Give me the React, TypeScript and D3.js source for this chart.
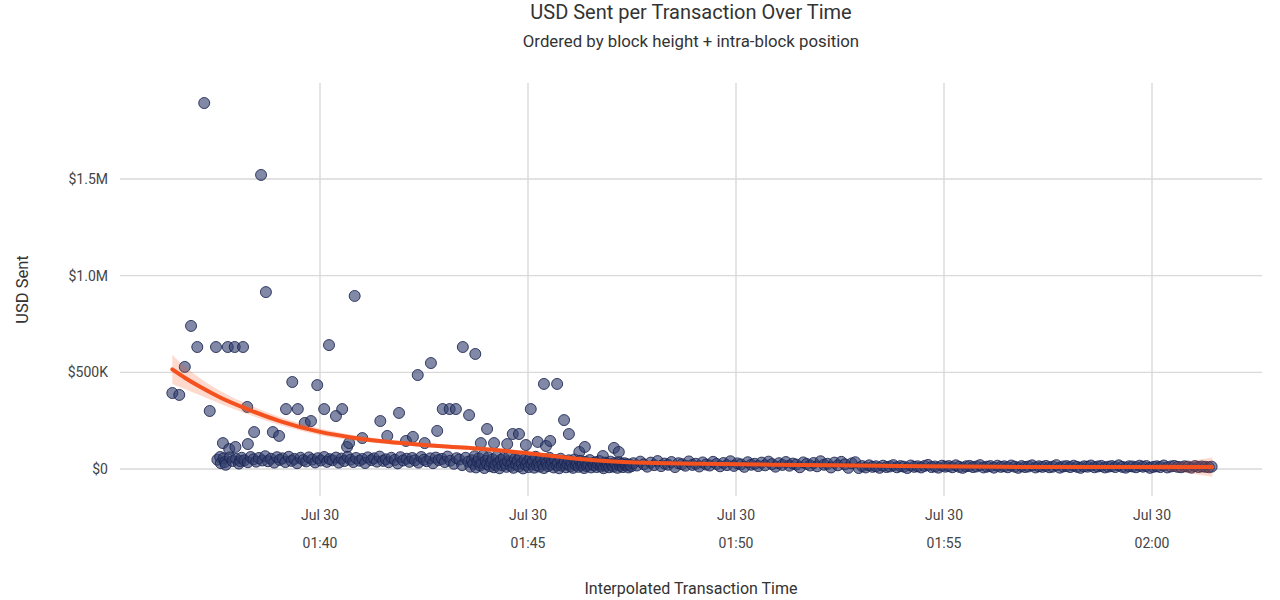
import React from "react";
import * as d3 from "d3";

// ---- data (seconds after 01:36:00 on Jul 30, USD in thousands) ----
const outliers: [number, number][] = [
  [27, 393], [37, 383], [45, 528], [54, 740], [63, 631], [73, 1893], [81, 300], [90, 631],
  [96, 62], [100, 134], [103, 36], [107, 631], [109, 103], [117, 631], [118, 114], [125, 41],
  [129, 631], [135, 321], [136, 129], [145, 191], [155, 1521], [162, 915], [172, 191], [181, 171],
  [191, 310], [200, 450], [208, 310], [218, 238], [227, 248], [236, 434], [246, 310], [253, 641],
  [263, 274], [272, 310], [279, 114], [282, 134], [290, 895], [301, 160], [327, 248], [337, 171],
  [354, 290], [364, 145], [374, 166], [381, 486], [391, 134], [400, 548], [409, 197], [417, 310],
  [427, 310], [436, 310], [446, 631], [455, 279], [464, 595], [472, 134], [481, 207], [491, 134],
  [510, 129], [518, 181], [527, 181], [537, 124], [544, 310], [554, 140], [563, 440], [566, 119],
  [572, 145], [582, 440], [592, 253], [599, 181], [614, 88], [622, 114], [648, 67], [664, 109],
  [671, 88],
];

const earlyBand: [number, number][] = [
  [92, 48], [97, 30], [101, 55], [104, 22], [110, 60], [114, 41], [119, 52], [123, 28], [127, 58],
  [131, 45], [136, 35], [140, 62], [144, 50], [148, 38], [152, 57], [157, 44], [161, 66], [165, 40],
  [169, 53], [174, 33], [178, 61], [182, 47], [186, 55], [190, 36], [195, 63], [199, 42], [203, 52],
  [207, 30], [212, 58], [216, 46], [220, 39], [224, 60], [229, 49], [233, 34], [237, 56], [241, 44],
  [246, 62], [250, 37], [254, 51], [258, 45], [263, 59], [267, 33], [271, 54], [275, 41], [280, 63],
  [284, 48], [288, 36], [292, 57], [297, 43], [301, 52], [305, 31], [309, 60], [314, 46], [318, 55],
  [322, 38], [326, 64], [331, 42], [335, 50], [339, 35], [343, 58], [348, 47], [352, 29], [356, 61],
  [360, 44], [365, 53], [369, 37], [373, 57], [377, 45], [382, 33], [386, 62], [390, 48], [394, 40],
  [399, 55], [403, 30], [407, 59], [411, 46], [416, 52], [420, 36], [424, 64], [428, 43], [433, 27],
  [437, 56], [441, 49], [445, 20], [450, 58], [454, 38],
];

const denseBand: [number, number][] = [
  [457, 12], [459, 45], [461, 28], [463, 66], [465, 8], [467, 38], [469, 55], [471, 18], [473, 30],
  [475, 70], [477, 5], [479, 42], [481, 25], [483, 60], [485, 14], [487, 35], [489, 50], [491, 9],
  [493, 22], [495, 64], [497, 31], [499, 4], [501, 47], [503, 19], [505, 57], [507, 27], [509, 11],
  [511, 40], [513, 68], [515, 16], [517, 33], [519, 6], [521, 52], [523, 24], [525, 43], [527, 13],
  [529, 61], [531, 29], [533, 3], [535, 48], [537, 21], [539, 36], [541, 10], [543, 55], [545, 26],
  [547, 41], [549, 7], [551, 63], [553, 18], [555, 34], [557, 12], [559, 50], [561, 24], [563, 5],
  [565, 44], [567, 30], [569, 15], [571, 58], [573, 22], [575, 38], [577, 8], [579, 47], [581, 20],
  [583, 32], [585, 4], [587, 53], [589, 17], [591, 28], [593, 40], [595, 9], [597, 25], [599, 45],
  [601, 14], [603, 33], [605, 6], [607, 49], [609, 21], [611, 30], [613, 11], [615, 42], [617, 18],
  [619, 27], [621, 5], [623, 37], [625, 15], [627, 24], [629, 46], [631, 8], [633, 29], [635, 19],
  [637, 35], [639, 10], [641, 26], [643, 41], [645, 13], [647, 22], [649, 4], [651, 33], [653, 17],
  [655, 28], [657, 9], [659, 38], [661, 20], [663, 12], [665, 31], [667, 24], [669, 6], [671, 35],
  [673, 16], [675, 27], [677, 10], [679, 30], [681, 19], [683, 25], [685, 8], [687, 22], [689, 14],
];

const midTail: [number, number][] = [
  [692, 30], [697, 18], [702, 38], [707, 24], [712, 12], [717, 33], [722, 20], [727, 41], [732, 15],
  [737, 28], [742, 22], [747, 36], [752, 10], [757, 30], [762, 25], [767, 17], [772, 39], [777, 21],
  [782, 27], [787, 13], [792, 34], [797, 23], [802, 18], [807, 37], [812, 26], [817, 14], [822, 31],
  [827, 20], [832, 40], [837, 16], [842, 29], [847, 24], [852, 11], [857, 35], [862, 22], [867, 27],
  [872, 15], [877, 33], [882, 19], [887, 38], [892, 25], [897, 12], [902, 30], [907, 21], [912, 36],
  [917, 17], [922, 28], [927, 23], [932, 9], [937, 34], [942, 26], [947, 18], [952, 31], [957, 14],
  [962, 40], [967, 22], [972, 27], [977, 8], [982, 33], [987, 19], [992, 37], [997, 24], [1002, 6],
  [1007, 29], [1012, 35], [1017, 5],
];

const lateTail: [number, number][] = [
  [1022, 15], [1027, 8], [1032, 19], [1037, 11], [1042, 14], [1047, 6], [1052, 17], [1057, 10],
  [1062, 13], [1067, 20], [1072, 9], [1077, 15], [1082, 12], [1087, 5], [1092, 18], [1097, 11],
  [1102, 14], [1107, 8], [1112, 16], [1117, 21], [1122, 10], [1127, 13], [1132, 7], [1137, 17],
  [1142, 12], [1147, 15], [1152, 9], [1157, 19], [1162, 11], [1167, 6], [1172, 14], [1177, 16],
  [1182, 10], [1187, 13], [1192, 20], [1197, 8], [1202, 12], [1207, 15], [1212, 7], [1217, 17],
  [1222, 11], [1227, 14], [1232, 9], [1237, 18], [1242, 12], [1247, 6], [1252, 15], [1257, 10],
  [1262, 13], [1267, 19], [1272, 8], [1277, 14], [1282, 11], [1287, 16], [1292, 9], [1297, 12],
  [1302, 20], [1307, 7], [1312, 13], [1317, 15], [1322, 10], [1327, 17], [1332, 11], [1337, 6],
  [1342, 14], [1347, 12], [1352, 18], [1357, 9], [1362, 13], [1367, 16], [1372, 8], [1377, 12],
  [1382, 15], [1387, 10], [1392, 19], [1397, 11], [1402, 7], [1407, 14], [1412, 13], [1417, 9],
  [1422, 17], [1427, 12], [1432, 15], [1437, 6], [1442, 11], [1447, 14], [1452, 10], [1457, 18],
  [1462, 8], [1467, 13], [1472, 16], [1477, 11], [1482, 9], [1487, 14], [1492, 12], [1497, 7],
  [1502, 15], [1507, 10], [1512, 13], [1517, 11], [1522, 9], [1526, 12],
];

// smooth (loess) fit: [seconds, fit K, half-width of 95% band K]
const smoothFit: [number, number, number][] = [
  [27, 515, 75], [45, 472, 58], [67, 425, 44], [96, 370, 33], [135, 310, 26], [182, 248, 21],
  [240, 192, 17], [288, 162, 14], [337, 141, 12], [384, 126, 11], [427, 115, 10], [471, 105, 10],
  [540, 82, 9], [615, 52, 8], [697, 33, 8], [788, 27, 7], [932, 21, 7], [1076, 15, 7],
  [1221, 11, 7], [1365, 10, 8], [1437, 10, 12], [1480, 10, 25], [1527, 10, 50],
];

const yTicks = [0, 500000, 1000000, 1500000];
const title = "USD Sent per Transaction Over Time";
const subtitle = "Ordered by block height + intra-block position";
const yTitle = "USD Sent";
const xTitle = "Interpolated Transaction Time";

// ---- layout ----
const W = 1280;
const H = 600;
const P = { left: 120, right: 1262, top: 83, bottom: 496 };
const BASE = Date.UTC(2024, 6, 30, 1, 36, 0);
const toDate = (s: number) => new Date(BASE + s * 1000);

const x = d3
  .scaleUtc()
  .domain([new Date(Date.UTC(2024, 6, 30, 1, 35, 11, 540)), new Date(Date.UTC(2024, 6, 30, 2, 2, 38, 650))])
  .range([P.left, P.right]);
const y = d3.scaleLinear().domain([-139700, 1996600]).range([P.bottom, P.top]);

const fmtY = (v: number) =>
  v === 0 ? "$0" : v < 1e6 ? `$${v / 1000}K` : `$${(v / 1e6).toFixed(1)}M`;
const fmtDay = d3.utcFormat("%b %d");
const fmtTime = d3.utcFormat("%H:%M");

const FONT = "Roboto, 'Noto Sans', sans-serif";

export default function App() {
  const points = [...outliers, ...earlyBand, ...denseBand, ...midTail, ...lateTail].sort(
    (a, b) => a[0] - b[0]
  );
  const xTicks = x.ticks(d3.utcMinute.every(5)!);

  const area = d3
    .area<[number, number, number]>()
    .x((d) => x(toDate(d[0])))
    .y0((d) => y((d[1] - d[2]) * 1000))
    .y1((d) => y((d[1] + d[2]) * 1000))
    .curve(d3.curveMonotoneX);
  const line = d3
    .line<[number, number, number]>()
    .x((d) => x(toDate(d[0])))
    .y((d) => y(d[1] * 1000))
    .curve(d3.curveMonotoneX);

  const cx = (P.left + P.right) / 2;

  return (
    <svg
      width={W}
      height={H}
      style={{ position: "absolute", left: 0, top: 0, background: "#fff" }}
      fontFamily={FONT}
    >
      <rect width={W} height={H} fill="#fff" />
      {/* grid */}
      {yTicks.map((t) => (
        <line key={"gy" + t} x1={P.left} x2={P.right} y1={y(t)} y2={y(t)} stroke="#d9d9d9" strokeWidth={1.4} />
      ))}
      {xTicks.map((t) => (
        <line
          key={"gx" + t.getTime()}
          x1={x(t)}
          x2={x(t)}
          y1={P.top}
          y2={P.bottom}
          stroke="#d9d9d9"
          strokeWidth={1.4}
        />
      ))}
      {/* points */}
      <g>
        {points.map((d, i) => (
          <circle
            key={i}
            cx={x(toDate(d[0]))}
            cy={y(d[1] * 1000)}
            r={5.5}
            fill="#34406f"
            fillOpacity={0.62}
            stroke="#1a2350"
            strokeOpacity={0.85}
            strokeWidth={1}
          />
        ))}
      </g>
      {/* smooth */}
      <path d={area(smoothFit) || ""} fill="#f4511e" fillOpacity={0.22} />
      <path d={line(smoothFit) || ""} fill="none" stroke="#f4511e" strokeWidth={4} strokeLinecap="round" />
      {/* axes labels */}
      {yTicks.map((t) => (
        <text key={"ty" + t} x={108} y={y(t)} dy="0.35em" textAnchor="end" fontSize={14} fill="#444">
          {fmtY(t)}
        </text>
      ))}
      {xTicks.map((t) => (
        <g key={"tx" + t.getTime()}>
          <text x={x(t)} y={520} textAnchor="middle" fontSize={14} fill="#444">
            {fmtDay(t)}
          </text>
          <text x={x(t)} y={548} textAnchor="middle" fontSize={14} fill="#444">
            {fmtTime(t)}
          </text>
        </g>
      ))}
      <text
        transform={`translate(28,${(P.top + P.bottom) / 2}) rotate(-90)`}
        textAnchor="middle"
        fontSize={16.5}
        fill="#333"
      >
        {yTitle}
      </text>
      <text x={cx} y={594} textAnchor="middle" fontSize={16} fill="#333">
        {xTitle}
      </text>
      <text x={cx} y={19} textAnchor="middle" fontSize={20} fill="#333">
        {title}
      </text>
      <text x={cx} y={47} textAnchor="middle" fontSize={16.8} fill="#333">
        {subtitle}
      </text>
    </svg>
  );
}
